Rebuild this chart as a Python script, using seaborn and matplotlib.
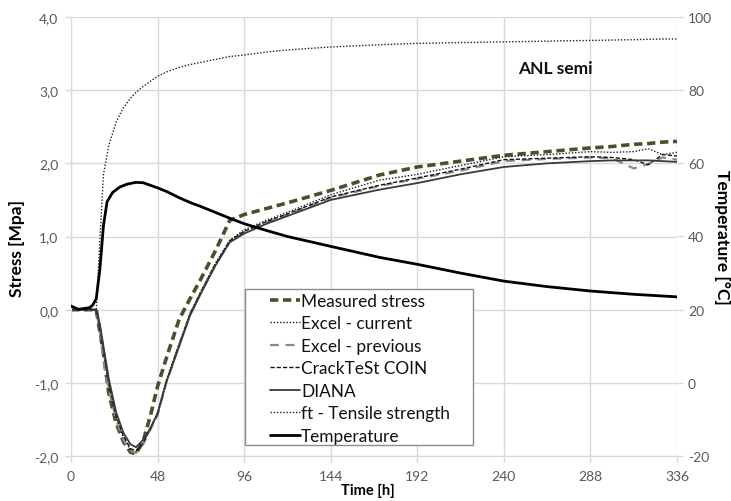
import numpy as np
import pandas as pd
import matplotlib
matplotlib.use("Agg")
import matplotlib.pyplot as plt
from matplotlib.patches import Rectangle
import seaborn as sns

# ---------------- data ----------------
time_h = [0, 10, 14, 16, 18, 21, 25, 29, 33, 36, 40, 44, 48, 53, 60, 66, 72, 80, 88,
          96, 108, 120, 144, 171, 192, 216, 240, 264, 288, 300, 312, 320, 328, 336]

measured = [0, 0, 0, -0.3, -0.6, -1.15, -1.55, -1.8, -1.95, -1.97, -1.8, -1.45, -1.05,
            -0.65, -0.13, 0.15, 0.42, 0.8, 1.22, 1.3, 1.38, 1.46, 1.63, 1.84, 1.95,
            2.03, 2.11, 2.16, 2.21, 2.23, 2.26, 2.27, 2.29, 2.3]

excel_current = [0, 0, 0, -0.25, -0.6, -1.05, -1.45, -1.75, -1.92, -1.95, -1.83, -1.62,
                 -1.4, -0.95, -0.46, -0.05, 0.25, 0.63, 0.95, 1.09, 1.22, 1.33, 1.57,
                 1.77, 1.85, 1.97, 2.09, 2.12, 2.16, 2.15, 2.16, 2.2, 2.12, 2.15]

excel_previous = [0, 0, 0, -0.3, -0.7, -1.1, -1.5, -1.78, -1.93, -1.96, -1.84, -1.64,
                  -1.44, -0.98, -0.48, -0.06, 0.23, 0.61, 0.93, 1.06, 1.19, 1.3, 1.53,
                  1.69, 1.79, 1.9, 2.03, 2.06, 2.08, 2.07, 1.93, 1.99, 2.08, 2.05]

cracktest = [0, 0, 0, -0.22, -0.55, -1.0, -1.45, -1.72, -1.9, -1.93, -1.82, -1.63,
             -1.43, -0.97, -0.48, -0.06, 0.24, 0.62, 0.94, 1.07, 1.2, 1.31, 1.54,
             1.70, 1.80, 1.92, 2.05, 2.07, 2.09, 2.08, 2.05, 1.98, 2.12, 2.1]

diana = [0, 0, 0, -0.2, -0.5, -0.95, -1.4, -1.68, -1.84, -1.88, -1.78, -1.62, -1.42,
         -0.98, -0.5, -0.08, 0.22, 0.6, 0.92, 1.04, 1.17, 1.28, 1.5, 1.64, 1.73, 1.85,
         1.95, 2.0, 2.03, 2.04, 2.04, 2.04, 2.03, 2.02]

ft_tensile = [0, 0, 0, 0.95, 1.85, 2.25, 2.56, 2.76, 2.89, 2.97, 3.05, 3.12, 3.19, 3.25,
              3.31, 3.35, 3.38, 3.42, 3.46, 3.48, 3.52, 3.55, 3.59, 3.62, 3.64, 3.65,
              3.66, 3.67, 3.68, 3.685, 3.69, 3.695, 3.70, 3.70]

temp_time_h = [0, 4, 10, 12, 14, 16, 18, 20, 23, 27, 31, 36, 40, 44, 48, 53, 60, 66, 72,
               80, 88, 96, 108, 120, 144, 171, 192, 216, 240, 264, 288, 312, 336]
temperature = [21.0, 20.1, 20.5, 21.2, 23.0, 31.0, 43.0, 49.5, 52.0, 53.5, 54.3, 54.8,
               54.7, 54.0, 53.3, 52.3, 50.6, 49.3, 48.2, 46.6, 45.0, 43.5, 41.7, 40.0,
               37.3, 34.3, 32.4, 30.0, 27.8, 26.3, 25.1, 24.2, 23.5]

labels = ["Measured stress", "Excel - current", "Excel - previous", "CrackTeSt COIN",
          "DIANA", "ft - Tensile strength", "Temperature"]

x_ticks = [0, 48, 96, 144, 192, 240, 288, 336]
y_ticks = [-2.0, -1.0, 0.0, 1.0, 2.0, 3.0, 4.0]
t_ticks = [-20, 0, 20, 40, 60, 80, 100]

# ---------------- style ----------------
sns.set_style("white")
plt.rcParams["font.family"] = ["Lato", "DejaVu Sans"]

fig = plt.figure(figsize=(7.31, 5.02), dpi=100)
ax = fig.add_axes([71 / 731, 1 - 457 / 502, (677 - 71) / 731, (457 - 18) / 502])
ax2 = ax.twinx()

olive = "#504c2c"
styles = [
    dict(y=measured, color=olive, lw=2.6, ls=(0, (2.3, 1.3))),
    dict(y=excel_current, color="#1a1a1a", lw=1.0, ls=(0, (1, 1.3))),
    dict(y=excel_previous, color="#8a8a8a", lw=1.6, ls=(0, (4, 3))),
    dict(y=cracktest, color="#111111", lw=1.0, ls=(0, (3, 1.5))),
    dict(y=diana, color="#3a3a3a", lw=1.3, ls="-"),
    dict(y=ft_tensile, color="#222222", lw=1.0, ls=(0, (1, 1.3))),
]

handles = []
for st in styles:
    sns.lineplot(x=time_h, y=st["y"], ax=ax, color=st["color"], linewidth=st["lw"],
                 linestyle=st["ls"], legend=False, estimator=None, sort=False)
    handles.append(ax.lines[-1])

sns.lineplot(x=temp_time_h, y=temperature, ax=ax2, color="black", linewidth=2.0,
             legend=False, estimator=None, sort=False)
handles.append(ax2.lines[-1])

# axes limits and ticks
ax.set_xlim(0, 336)
ax.set_ylim(-2.0, 4.0)
ax2.set_ylim(-20, 100)
ax.set_xticks(x_ticks)
ax.set_yticks(y_ticks)
ax2.set_yticks(t_ticks)
ax.set_xticklabels([str(v) for v in x_ticks])
ax.set_yticklabels([f"{v:.1f}".replace(".", ",") for v in y_ticks])
ax2.set_yticklabels([str(v) for v in t_ticks])

grid_c = "#d9d9d9"
ax.grid(True, color=grid_c, linewidth=1.0)
ax.set_axisbelow(True)
for a in (ax, ax2):
    for sp in a.spines.values():
        sp.set_visible(False)
ax.spines["left"].set_visible(True)
ax.spines["left"].set_color(grid_c)
ax.spines["bottom"].set_visible(True)
ax.spines["bottom"].set_color(grid_c)

tick_c = "#595959"
ax.tick_params(axis="both", colors=grid_c, labelcolor=tick_c, labelsize=10,
               length=4, width=1, direction="out", left=True, bottom=True)
ax.tick_params(axis="y", pad=5)
ax.tick_params(axis="x", pad=6)
ax2.tick_params(axis="y", colors=grid_c, labelcolor=tick_c, labelsize=10,
                length=4, width=1, direction="out", right=True, pad=4)

ax.set_xlabel("Time [h]", fontsize=10.5, fontweight="bold", color="black")
ax.xaxis.set_label_coords(0.49, -0.062)
ax.set_ylabel("Stress [Mpa]", fontsize=12.5, fontweight="bold", color="black")
ax.yaxis.set_label_coords(-0.076, 0.475)
ax2.set_ylabel("Temperature [°C]", fontsize=12.5, fontweight="bold", color="black",
               rotation=270, va="center")
ax2.yaxis.set_label_coords(1.074, 0.5)

ax.text(0.80, 0.884, "ANL semi", transform=ax.transAxes, fontsize=12.5,
        fontweight="bold", ha="center", va="center", color="#111111")

# legend frame (drawn separately to match the wider box of the original)
frame = Rectangle((0.287, 0.025), 0.376, 0.355, transform=ax2.transAxes,
                  facecolor="white", edgecolor="#8c8c8c", linewidth=1.0, zorder=4)
ax2.add_patch(frame)

leg = ax2.legend(handles, labels, loc="upper left", bbox_to_anchor=(0.328, 0.372),
                 frameon=False, fontsize=12.4, handlelength=1.74, handletextpad=0.08,
                 labelspacing=0.38, borderpad=0, borderaxespad=0)
leg.set_zorder(6)
for txt in leg.get_texts():
    txt.set_color("#111111")

fig.savefig("out.png", dpi=100)
